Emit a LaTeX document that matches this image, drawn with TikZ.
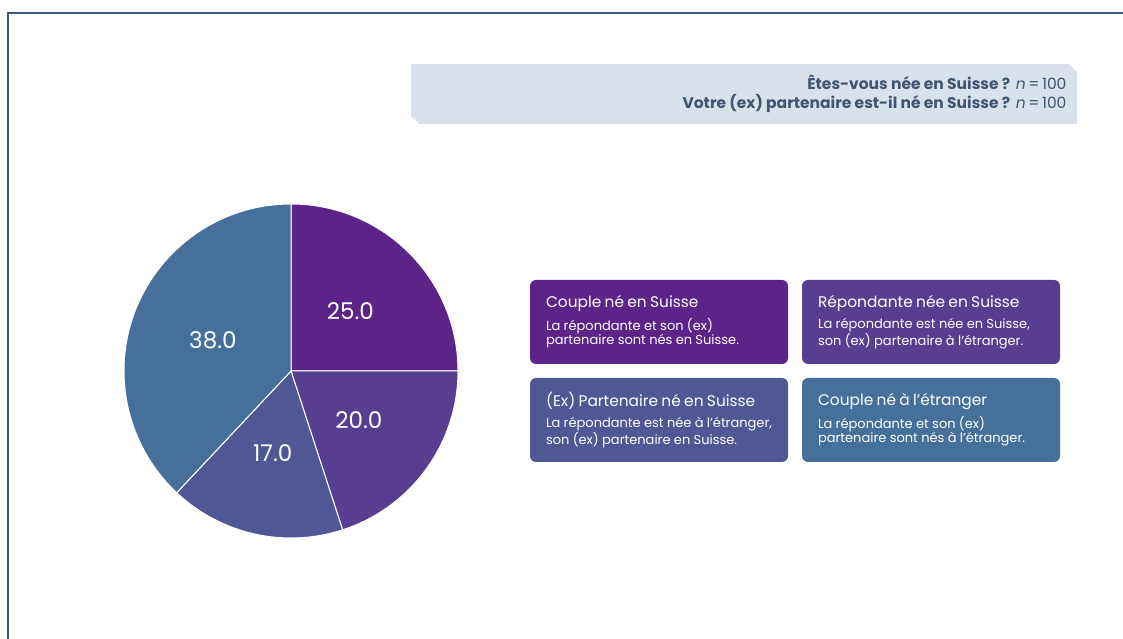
\documentclass[tikz,border=0pt]{standalone}
\usepackage{fontspec}
\setmainfont{Poppins}
\definecolor{framecol}{HTML}{3B587C}
\definecolor{hdrfill}{HTML}{D9E2EC}
\definecolor{hdrtext}{HTML}{3F5573}
\definecolor{sliceA}{HTML}{5C2489}
\definecolor{sliceB}{HTML}{573E8F}
\definecolor{sliceC}{HTML}{4F5895}
\definecolor{sliceD}{HTML}{46709B}

\begin{document}
\begin{tikzpicture}[x=1pt,y=1pt,
	legbox/.style={rectangle, rounded corners=6pt, minimum width=258pt, minimum height=84pt, text width=226pt, inner xsep=16pt, inner ysep=0pt, text=white, align=left},
	slice/.style={draw=white, line width=1pt},
	pielabel/.style={text=white, font=\fontsize{23}{26}\selectfont}]
	\useasboundingbox (0,0) rectangle (1123,639);
	\draw [framecol, line width=2.5pt] (8,0) -- (8,626) -- (1123,626);

	% question header
	\fill [hdrfill] (411,575) -- (1069,575) -- (1077,567) -- (1077,515) -- (419,515) -- (411,523) -- cycle;
	\node [anchor=east, align=right, text=hdrtext, font=\fontsize{15.5}{19}\selectfont] (question) at (1070,545)
		{\textbf{Êtes-vous née en Suisse ?} \textit{n}\,=\,100\\ \textbf{Votre (ex) partenaire est-il né en Suisse ?} \textit{n}\,=\,100};

	% pie
	\coordinate (pc) at (291,268);
	\filldraw [slice, fill=sliceA] (pc) -- ++(0:167) arc[start angle=0, end angle=90, radius=167] -- cycle;
	\filldraw [slice, fill=sliceB] (pc) -- ++(-72:167) arc[start angle=-72, end angle=0, radius=167] -- cycle;
	\filldraw [slice, fill=sliceC] (pc) -- ++(-133.2:167) arc[start angle=-133.2, end angle=-72, radius=167] -- cycle;
	\filldraw [slice, fill=sliceD] (pc) -- ++(90:167) arc[start angle=90, end angle=226.8, radius=167] -- cycle;
	\node [pielabel] (v25) at ([shift={(45:84)}]pc) {25.0};
	\node [pielabel] (v20) at ([shift={(-36:84)}]pc) {20.0};
	\node [pielabel] (v17) at ([shift={(-102.6:84)}]pc) {17.0};
	\node [pielabel] (v38) at ([shift={(158.4:84)}]pc) {38.0};

	% legend
	\node [legbox, fill=sliceA] (bothCH) at (659,317)
		{{\fontsize{15.4}{18}\selectfont Couple né en Suisse}\\[5pt]
		{\fontsize{13}{16}\selectfont La répondante et son (ex)\\ partenaire sont nés en Suisse.}};
	\node [legbox, fill=sliceB] (respCH) at (931,317)
		{{\fontsize{15.4}{18}\selectfont Répondante née en Suisse}\\[5pt]
		{\fontsize{13}{16}\selectfont La répondante est née en Suisse,\\ son (ex) partenaire à l’étranger.}};
	\node [legbox, fill=sliceC] (partCH) at (659,219)
		{{\fontsize{15.4}{18}\selectfont (Ex) Partenaire né en Suisse}\\[5pt]
		{\fontsize{13}{16}\selectfont La répondante est née à l’étranger,\\ son (ex) partenaire en Suisse.}};
	\node [legbox, fill=sliceD] (bothAbroad) at (931,219)
		{{\fontsize{15.4}{18}\selectfont Couple né à l’étranger}\\[5pt]
		{\fontsize{13}{16}\selectfont La répondante et son (ex)\\ partenaire sont nés à l’étranger.}};
\end{tikzpicture}
\end{document}
